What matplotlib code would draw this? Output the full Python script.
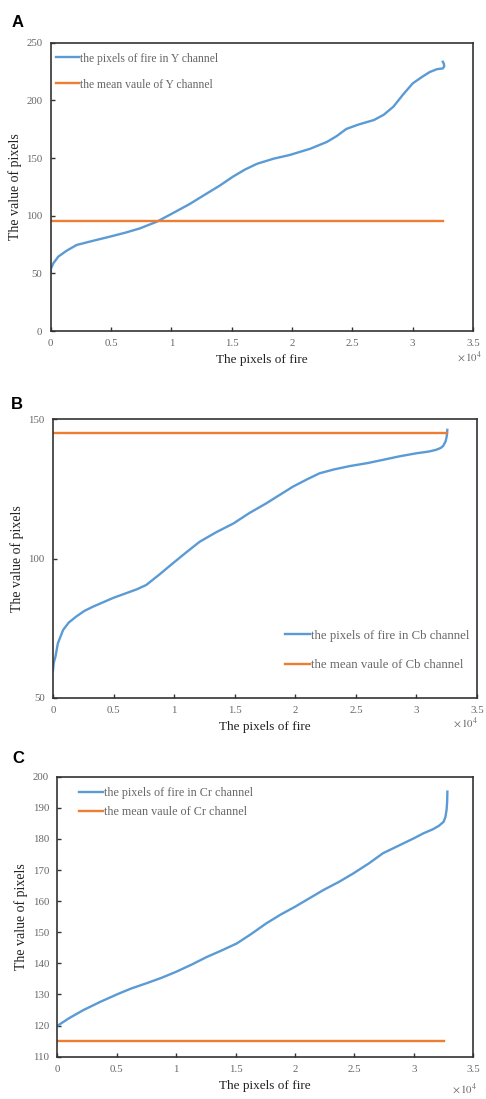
import matplotlib
matplotlib.use("Agg")
import matplotlib.pyplot as plt
from matplotlib.ticker import FuncFormatter

plt.rcParams['font.family'] = ['Liberation Serif', 'DejaVu Serif']
plt.rcParams['mathtext.fontset'] = 'stix'

W, H = 486, 1099
BLUE = '#5B9BD5'
ORANGE = '#ED7D31'

# pixel index (x 1e4 on axis) and value
y_x = [0, 0.002, 0.022, 0.063, 0.13, 0.215, 0.35, 0.49, 0.62, 0.74, 0.88, 1.0, 1.15, 1.29,
       1.4, 1.51, 1.61, 1.71, 1.85, 1.98, 2.15, 2.29, 2.37, 2.45, 2.55, 2.68, 2.76, 2.84, 2.92,
       3.0, 3.08, 3.14, 3.2, 3.25, 3.262, 3.258, 3.25]
y_val = [50, 54, 58.7, 64.5, 69.5, 74.6, 78.2, 81.8, 85.3, 89, 94.8, 101.5, 110, 119,
         126, 133.8, 140, 145, 149.5, 152.6, 158, 164, 169, 175.2, 179, 183, 187.5, 194.5, 205,
         214.7, 220.5, 224.5, 227, 227.7, 229.5, 231.8, 233.5]
y_mean = 95

cb_x = [0, 0.006, 0.02, 0.04, 0.083, 0.13, 0.19, 0.26, 0.33, 0.5, 0.69, 0.77, 0.88, 0.99, 1.1,
        1.21, 1.35, 1.49, 1.62, 1.76, 1.98, 2.1, 2.2, 2.32, 2.45, 2.6, 2.72, 2.86, 3.0, 3.1,
        3.16, 3.2, 3.22, 3.24, 3.25, 3.255]
cb_val = [59.9, 62.5, 64.7, 69.5, 74.3, 77, 79.1, 81.2, 82.7, 85.9, 88.9, 90.5, 94.3, 98.3, 102.2,
          106, 109.5, 112.6, 116.3, 119.8, 125.8, 128.5, 130.6, 132, 133.2, 134.3, 135.4, 136.7, 137.8,
          138.4, 139, 139.7, 140.4, 142, 143.8, 146.2]
cb_mean = 145

cr_x = [0, 0.1, 0.22, 0.36, 0.5, 0.62, 0.75, 0.88, 1.0, 1.13, 1.26, 1.38, 1.51, 1.63, 1.76,
        1.88, 2.0, 2.12, 2.24, 2.37, 2.49, 2.62, 2.74, 2.87, 3.0, 3.08, 3.16, 3.21, 3.25, 3.265,
        3.275, 3.28, 3.282]
cr_val = [119.9, 122.4, 125, 127.6, 130, 131.9, 133.6, 135.4, 137.3, 139.6, 142.1, 144.1, 146.4, 149.4, 152.9,
          155.7, 158.2, 160.9, 163.6, 166.2, 168.9, 172.1, 175.4, 177.8, 180.2, 181.8, 183.1, 184.2, 185.5, 187,
          189.3, 192, 195.2]
cr_mean = 115

mean_x = [0, 3.25]

# name, x, values, mean, channel, ylim, yticks, box(px: left, top, right, bottom),
# legend loc, legend anchor, legend size, spacing, handle length, x10^4 pos (px), letter pos (px)
panels = [
    ('A', y_x, y_val, y_mean, 'Y', (0, 250), [0, 50, 100, 150, 200, 250],
     (50.7, 42.7, 473, 331), 'upper left', (-0.005, 0.99), 8.4, 1.2, 2.0, (482, 357), (12, 27)),
    ('B', cb_x, cb_val, cb_mean, 'Cb', (50, 150), [50, 100, 150],
     (53, 419.3, 477, 697.7), 'lower right', (1.0, 0.068), 9.2, 1.35, 1.9, (478, 723), (11, 409)),
    ('C', cr_x, cr_val, cr_mean, 'Cr', (110, 200), list(range(110, 201, 10)),
     (57.3, 776.7, 473.3, 1056.7), 'upper left', (0.035, 0.99), 8.7, 0.62, 1.95, (477, 1089), (12, 763)),
]

fig = plt.figure(figsize=(W / 100, H / 100), dpi=100)

for name, xs, vals, mean, ch, ylim, yt, box, loc, anchor, lsize, lsp, hl, mpos, lpos in panels:
    l, t, r, b = box
    ax = fig.add_axes([l / W, 1 - b / H, (r - l) / W, (b - t) / H])
    ax.plot([v * 1e4 for v in xs], vals, color=BLUE, lw=1.7,
            label='the pixels of fire in %s channel' % ch)
    ax.plot([v * 1e4 for v in mean_x], [mean, mean], color=ORANGE, lw=1.7,
            label='the mean vaule of %s channel' % ch)
    ax.set_xlim(0, 35000)
    ax.set_ylim(*ylim)
    ax.set_yticks(yt)
    ax.set_xticks([i * 5000 for i in range(8)])
    ax.xaxis.set_major_formatter(FuncFormatter(lambda v, p: '%g' % (v / 1e4)))
    ax.tick_params(direction='in', length=3, width=1, colors='#333333',
                   labelcolor='#666666', labelsize=7.8, pad=6)
    for s in ax.spines.values():
        s.set_color('#333333')
        s.set_linewidth(1.2)
    ax.set_xlabel('The pixels of fire', fontsize=9.5, color='#222222', labelpad=4)
    ax.set_ylabel('The value of pixels', fontsize=10, color='#222222', labelpad=3)
    fig.text(mpos[0] / W, 1 - mpos[1] / H, r'$\times\,10^4$', ha='right', va='center',
             fontsize=7.8, color='#666666')
    leg = ax.legend(loc=loc, bbox_to_anchor=anchor, frameon=False, fontsize=lsize,
                    handlelength=hl, handletextpad=0.1, labelspacing=lsp,
                    borderaxespad=0.2)
    for txt in leg.get_texts():
        txt.set_color('#666666')
    fig.text(lpos[0] / W, 1 - lpos[1] / H, name, fontsize=12,
             fontweight='bold', family='Liberation Sans', ha='left', va='baseline')

fig.savefig('out.png', dpi=100)
